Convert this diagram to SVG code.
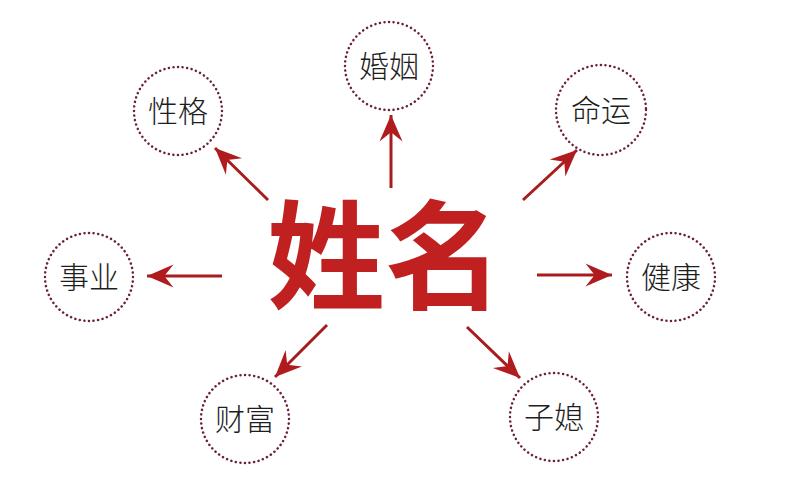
<svg xmlns="http://www.w3.org/2000/svg" width="791" height="500" viewBox="0 0 791 500">
  <defs>
    <marker id="ah" markerUnits="userSpaceOnUse" markerWidth="30" markerHeight="30" viewBox="-24 -12 26 24" refX="0" refY="0" orient="auto">
      <path d="M0,0 L-23,-10 L-15,0 L-23,10 Z" fill="#b01c1e"/>
    </marker>
  </defs>
  <style>
    .node circle { fill: #ffffff; stroke: #6b2236; stroke-width: 2.5; stroke-dasharray: 0.1 4.5; stroke-linecap: round; }
    .node text { font-family: "Noto Sans CJK SC", "Noto Sans", sans-serif; font-size: 30px; fill: #1e1e1e; text-anchor: middle; font-weight: 300; }
    .conn line { stroke: #a81c1e; stroke-width: 3; marker-end: url(#ah); }
    .title { font-family: "Noto Sans CJK SC", sans-serif; font-size: 118px; font-weight: 700; fill: #c0201f; text-anchor: middle; }
  </style>
  <rect width="791" height="500" fill="#ffffff"/>
  <g id="connectors" class="conn">
    <line x1="268" y1="200" x2="215" y2="148"/>
    <line x1="391" y1="188" x2="391" y2="115"/>
    <line x1="523" y1="200" x2="577" y2="150"/>
    <line x1="537" y1="275" x2="612" y2="275"/>
    <line x1="222" y1="276" x2="147" y2="276"/>
    <line x1="327" y1="325" x2="275" y2="377"/>
    <line x1="467" y1="327" x2="520" y2="378"/>
  </g>
  <g id="center">
    <text class="title" x="385" y="300">姓名</text>
  </g>
  <g id="node-xingge" class="node">
    <circle cx="178" cy="111" r="44"/>
    <text x="178" y="122">性格</text>
  </g>
  <g id="node-hunyin" class="node">
    <circle cx="389" cy="66" r="44"/>
    <text x="389" y="77">婚姻</text>
  </g>
  <g id="node-mingyun" class="node">
    <circle cx="601" cy="110" r="45"/>
    <text x="601" y="121">命运</text>
  </g>
  <g id="node-jiankang" class="node">
    <circle cx="671" cy="277" r="44"/>
    <text x="671" y="288">健康</text>
  </g>
  <g id="node-shiye" class="node">
    <circle cx="89" cy="277" r="44"/>
    <text x="89" y="288">事业</text>
  </g>
  <g id="node-caifu" class="node">
    <circle cx="245" cy="419" r="44"/>
    <text x="245" y="430">财富</text>
  </g>
  <g id="node-zixi" class="node">
    <circle cx="554" cy="417" r="44"/>
    <text x="554" y="428">子媳</text>
  </g>
</svg>
